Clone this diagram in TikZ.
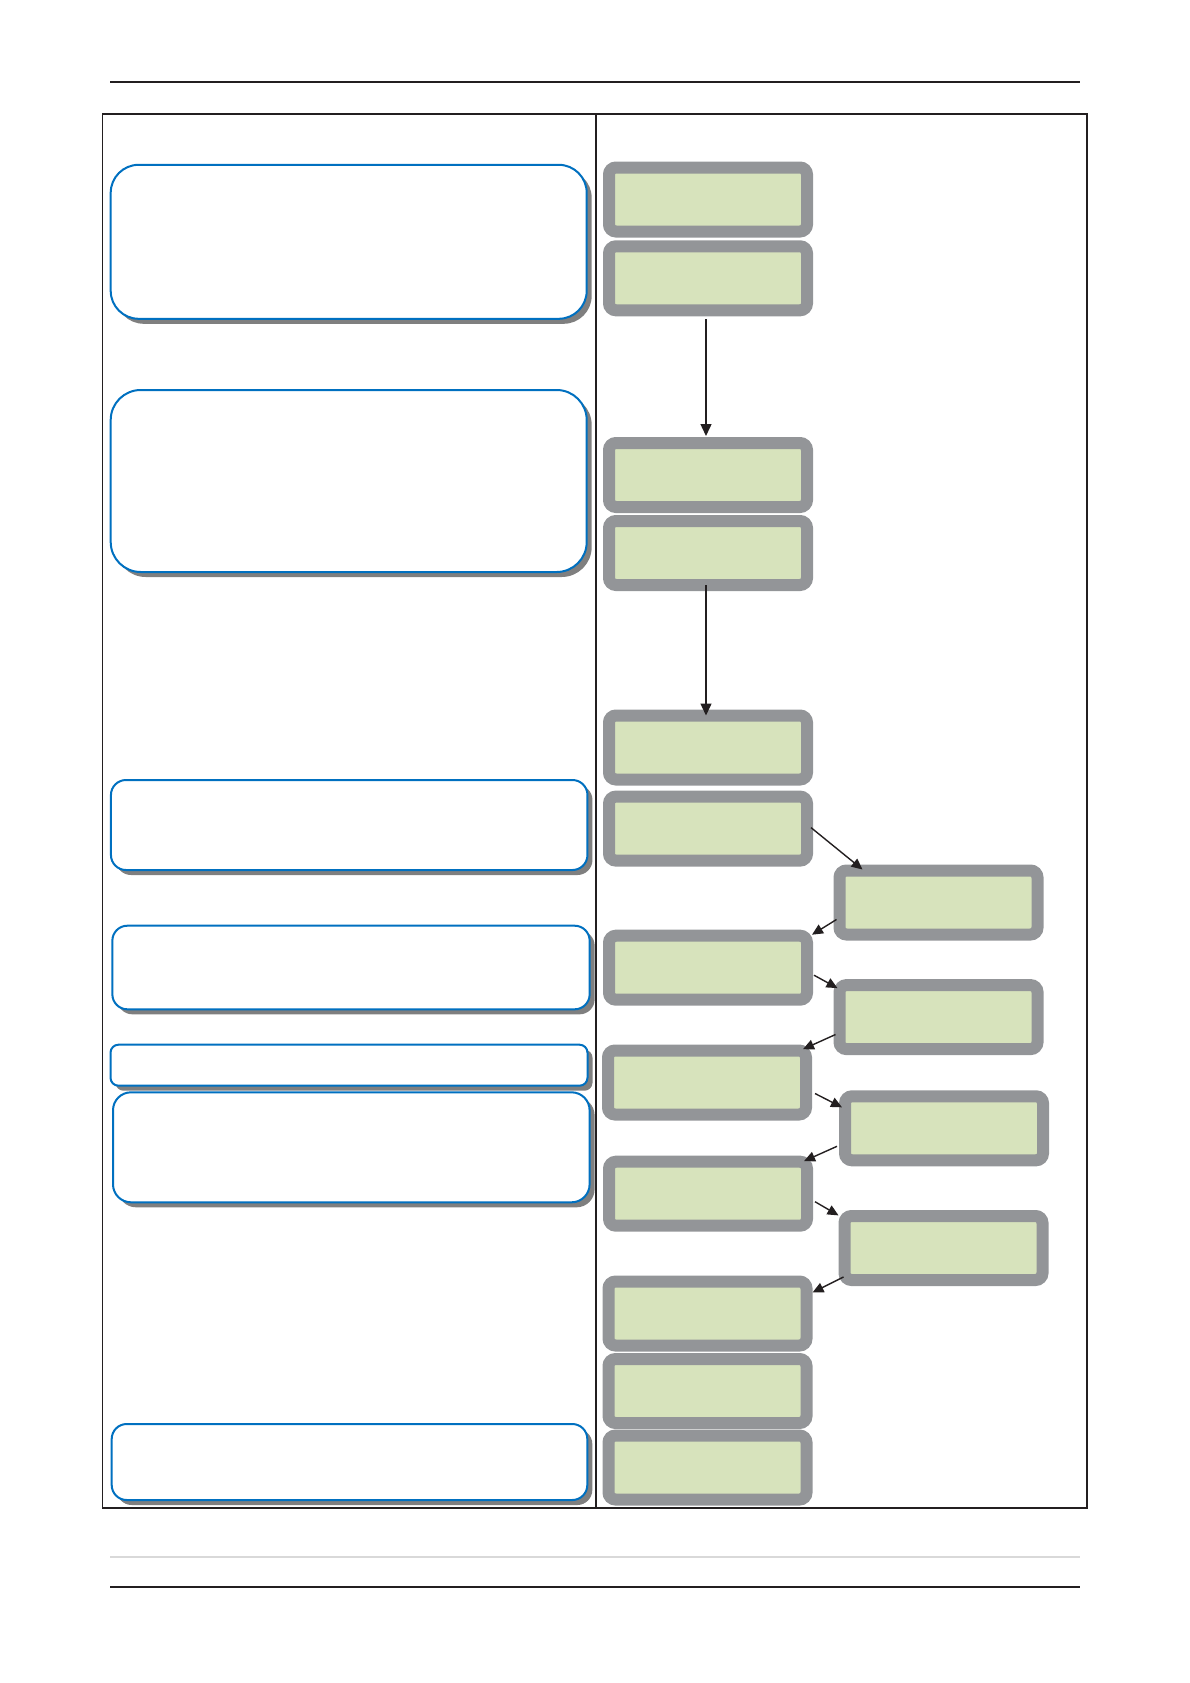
\documentclass[tikz,border=0pt]{standalone}
\usetikzlibrary{arrows.meta,calc,shadows}
\definecolor{lcdgray}{HTML}{939598}
\definecolor{lcdgreen}{HTML}{D7E3BC}
\definecolor{boxblue}{HTML}{0070C0}
\definecolor{shadowgray}{HTML}{7F7F7F}
\definecolor{inkblack}{HTML}{231F20}
\definecolor{rulegray}{HTML}{D9D9D9}
\tikzset{
  lcd/.style={rectangle, fill=lcdgreen, draw=lcdgray, line width=12pt, rounded corners=7pt,
    minimum width=198pt, minimum height=64pt, inner sep=0pt, outer sep=6pt},
  note/.style={rectangle, fill=white, draw=boxblue, line width=2pt, inner sep=0pt, outer sep=1pt,
    drop shadow={shadow xshift=5pt, shadow yshift=-5pt, fill=shadowgray, opacity=1}},
  flow/.style={draw=inkblack, line width=1.4pt, -{Triangle[length=12pt,width=11pt]}},
  flowsmall/.style={draw=inkblack, line width=1.4pt, -{Triangle[length=11pt,width=10pt]}},
  frameline/.style={draw=inkblack, line width=1.4pt}
}
\begin{document}
\begin{tikzpicture}[x=1pt,y=-1pt]
\useasboundingbox (0,0) rectangle (1190,1683);
% page rules
\draw[frameline] (110,82) -- (1080,82);
\draw[draw=rulegray, line width=1.2pt] (110,1557) -- (1080,1557);
\draw[frameline] (110,1587) -- (1080,1587);
% table frame
\draw[frameline] (102.5,114) rectangle (1087,1508);
\draw[draw=inkblack, line width=1.3pt] (596,114) -- (596,1508);
% left notes
\node[note, rounded corners=28pt, minimum width=476pt, minimum height=154pt] (L1) at (348.7,241.8) {};
\node[note, rounded corners=30pt, minimum width=476pt, minimum height=182pt] (L2) at (348.7,481) {};
\node[note, rounded corners=15pt, minimum width=476.5pt, minimum height=90pt] (L3) at (349.2,825) {};
\node[note, rounded corners=15pt, minimum width=477.3pt, minimum height=83.6pt] (L4) at (351,967.5) {};
\node[note, rounded corners=8pt, minimum width=477pt, minimum height=41pt] (L5) at (349,1065.2) {};
\node[note, rounded corners=18pt, minimum width=476.6pt, minimum height=110pt] (L6) at (351.3,1147.3) {};
\node[note, rounded corners=15pt, minimum width=475.6pt, minimum height=76pt] (L7) at (349.5,1462) {};
% LCD screens, main column
\node[lcd] (R1) at (708,199.5) {};
\node[lcd] (R2) at (708,278.3) {};
\node[lcd] (R3) at (708,475) {};
\node[lcd] (R4) at (708,553) {};
\node[lcd] (R5) at (708,747.5) {};
\node[lcd] (R6) at (708,828.6) {};
\node[lcd] (R7) at (708,967.7) {};
\node[lcd] (R8) at (707,1082.5) {};
\node[lcd] (R9) at (708,1193.7) {};
\node[lcd] (R10) at (707.5,1313.5) {};
\node[lcd] (R11) at (707.5,1391) {};
\node[lcd] (R12) at (707.5,1467.5) {};
% LCD screens, side column
\node[lcd] (S1) at (938.5,902.5) {};
\node[lcd] (S2) at (938.5,1017.1) {};
\node[lcd] (S3) at (944,1128.3) {};
\node[lcd] (S4) at (943.5,1248) {};
% connectors
\draw[flow] ($(R2.south)+(-2,3)$) -- ($(R3.north)+(-2,-1)$);
\draw[flow] ($(R4.south)+(-2,-6)$) -- ($(R5.north)+(-2,6)$);
\draw[flowsmall] ($(R6.east)+(-2,-1)$) -- ($(S1.north west)+(29,5)$);
\draw[flowsmall] ($(S1.south west)+(3,-21)$) -- ($(R7.north east)+(-1,5)$);
\draw[flowsmall] ($(R7.east)+(1,7.5)$) -- ($(S2.north west)+(4,9)$);
\draw[flowsmall] ($(S2.south west)+(2,-20.6)$) -- ($(R8.north east)+(-9,4.7)$);
\draw[flowsmall] ($(R8.east)+(3,11)$) -- ($(S3.north west)+(3,17)$);
\draw[flowsmall] ($(S3.south west)+(-2,-20)$) -- ($(R9.north east)+(-9,5.4)$);
\draw[flowsmall] ($(R9.east)+(2,8)$) -- ($(S4.north west)+(0,5.4)$);
\draw[flowsmall] ($(S4.south west)+(5,-9)$) -- ($(R10.north east)+(0,17)$);
\end{tikzpicture}
\end{document}
